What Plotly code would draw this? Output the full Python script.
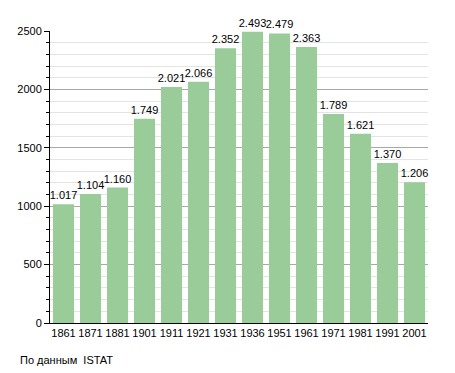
import plotly.graph_objects as go

years = ["1861", "1871", "1881", "1901", "1911", "1921", "1931", "1936", "1951", "1961", "1971", "1981", "1991", "2001"]
population = [1017, 1104, 1160, 1749, 2021, 2066, 2352, 2493, 2479, 2363, 1789, 1621, 1370, 1206]
labels = [f"{v:,}".replace(",", ".") for v in population]

fig = go.Figure(go.Bar(
    x=years, y=population, text=labels, textposition="outside",
    textfont=dict(size=11, color="black", family="Liberation Sans, Arial"),
    marker=dict(color="#99cc99", line=dict(width=0)),
    cliponaxis=False, constraintext="none",
))

fig.update_layout(
    width=455, height=373,
    margin=dict(l=42, r=35, t=23, b=58, autoexpand=False),
    plot_bgcolor="white", paper_bgcolor="white",
    bargap=0.22,
    showlegend=False,
    font=dict(family="Liberation Sans, Arial", size=11, color="black"),
    annotations=[dict(text="По данным  ISTAT", xref="paper", yref="paper",
                      x=-0.085, y=-0.128, xanchor="left", yanchor="middle",
                      showarrow=False, font=dict(size=11))],
)
fig.update_yaxes(
    range=[0, 2500], dtick=500, showgrid=True, gridcolor="#a8a8a8", gridwidth=1,
    showline=True, linecolor="black", linewidth=1, ticks="outside", ticklen=5,
    tickcolor="black", zeroline=False, automargin=False,
    minor=dict(dtick=100, showgrid=True, gridcolor="#e4e4e4", ticks="outside", ticklen=3, tickcolor="black"),
)
fig.update_xaxes(showline=True, linecolor="black", linewidth=1, ticks="", showgrid=False,
                 automargin=False)

fig.write_html("out.html")
